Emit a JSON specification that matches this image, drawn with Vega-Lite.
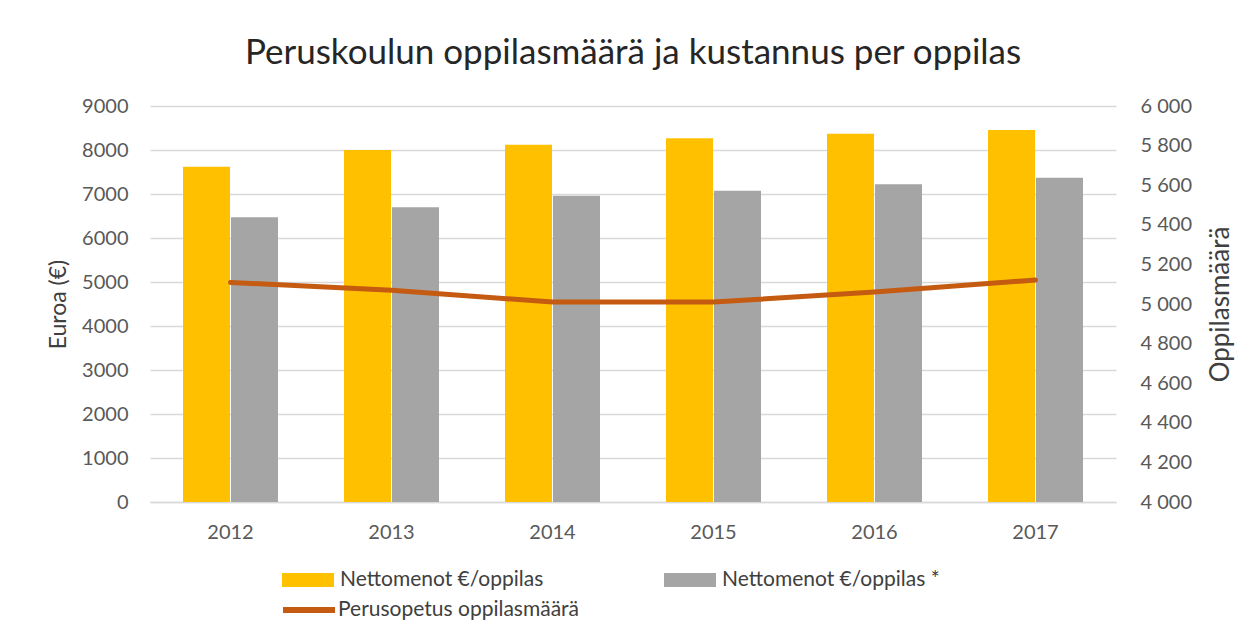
{
  "$schema": "https://vega.github.io/schema/vega-lite/v6.json",
  "width": 966,
  "height": 396,
  "autosize": {"type": "none"},
  "padding": {"left": 150, "top": 106, "right": 143, "bottom": 120},
  "background": "white",
  "config": {"font": "Lato", "view": {"stroke": null}},
  "title": {
    "text": "Peruskoulun oppilasmäärä ja kustannus per oppilas",
    "fontSize": 35,
    "fontWeight": "normal",
    "color": "#262626",
    "anchor": "middle",
    "offset": 25
  },
  "datasets": {
    "bars": [
      {"year": "2012", "series": "Nettomenot €/oppilas", "value": 7620},
      {"year": "2012", "series": "Nettomenot €/oppilas *", "value": 6470},
      {"year": "2013", "series": "Nettomenot €/oppilas", "value": 8000},
      {"year": "2013", "series": "Nettomenot €/oppilas *", "value": 6700},
      {"year": "2014", "series": "Nettomenot €/oppilas", "value": 8120},
      {"year": "2014", "series": "Nettomenot €/oppilas *", "value": 6960},
      {"year": "2015", "series": "Nettomenot €/oppilas", "value": 8265},
      {"year": "2015", "series": "Nettomenot €/oppilas *", "value": 7075},
      {"year": "2016", "series": "Nettomenot €/oppilas", "value": 8370},
      {"year": "2016", "series": "Nettomenot €/oppilas *", "value": 7220},
      {"year": "2017", "series": "Nettomenot €/oppilas", "value": 8455},
      {"year": "2017", "series": "Nettomenot €/oppilas *", "value": 7370}
    ],
    "line": [
      {"year": "2012", "label": "Perusopetus oppilasmäärä", "count": 5109},
      {"year": "2013", "label": "Perusopetus oppilasmäärä", "count": 5070},
      {"year": "2014", "label": "Perusopetus oppilasmäärä", "count": 5010},
      {"year": "2015", "label": "Perusopetus oppilasmäärä", "count": 5010},
      {"year": "2016", "label": "Perusopetus oppilasmäärä", "count": 5060},
      {"year": "2017", "label": "Perusopetus oppilasmäärä", "count": 5121}
    ]
  },
  "layer": [
    {
      "data": {"name": "bars"},
      "mark": {"type": "bar"},
      "encoding": {
        "x": {
          "field": "year",
          "type": "ordinal",
          "scale": {"paddingInner": 0.41, "paddingOuter": 0.205},
          "axis": {
            "title": null,
            "labelAngle": 0,
            "labelFontSize": 20,
            "labelColor": "#595959",
            "labelPadding": 20,
            "ticks": false,
            "domain": true,
            "domainColor": "#d9d9d9",
            "domainWidth": 1.5
          }
        },
        "xOffset": {
          "field": "series",
          "type": "nominal",
          "scale": {"paddingInner": 0.02}
        },
        "y": {
          "field": "value",
          "type": "quantitative",
          "scale": {"domain": [0, 9000], "nice": false},
          "axis": {
            "title": "Euroa (€)",
            "titleFontSize": 23,
            "titleFontWeight": "normal",
            "titleColor": "#404040",
            "titlePadding": 11,
            "values": [0, 1000, 2000, 3000, 4000, 5000, 6000, 7000, 8000, 9000],
            "format": "d",
            "labelFontSize": 20,
            "labelColor": "#595959",
            "labelPadding": 22,
            "ticks": false,
            "domain": false,
            "grid": true,
            "gridColor": "#d9d9d9",
            "gridWidth": 1.5
          }
        },
        "fill": {
          "field": "series",
          "type": "nominal",
          "scale": {
            "domain": ["Nettomenot €/oppilas", "Nettomenot €/oppilas *"],
            "range": ["#FFC000", "#A5A5A5"]
          },
          "legend": {
            "orient": "none",
            "legendX": 132,
            "legendY": 448,
            "direction": "horizontal",
            "columns": 2,
            "columnPadding": 120,
            "title": null,
            "symbolType": "M-1,-0.27H1V0.27H-1Z",
            "symbolSize": 2704,
            "symbolStrokeWidth": 0,
            "labelFontSize": 21,
            "labelColor": "#404040",
            "labelOffset": 6,
            "labelLimit": 0
          }
        }
      }
    },
    {
      "data": {"name": "line"},
      "mark": {"type": "line", "strokeWidth": 5, "strokeCap": "round", "strokeJoin": "round"},
      "encoding": {
        "x": {"field": "year", "type": "ordinal"},
        "y": {
          "field": "count",
          "type": "quantitative",
          "scale": {"domain": [4000, 6000], "nice": false},
          "axis": {
            "orient": "right",
            "title": "Oppilasmäärä",
            "titleAngle": 270,
            "titleFontSize": 26,
            "titleFontWeight": "normal",
            "titleColor": "#404040",
            "titlePadding": 42,
            "values": [4000, 4200, 4400, 4600, 4800, 5000, 5200, 5400, 5600, 5800, 6000],
            "labelExpr": "replace(format(datum.value, ',d'), ',', ' ')",
            "labelFontSize": 20,
            "labelColor": "#595959",
            "labelPadding": 24,
            "ticks": false,
            "domain": false,
            "grid": false
          }
        },
        "stroke": {
          "field": "label",
          "type": "nominal",
          "scale": {"range": ["#C55A11"]},
          "legend": {
            "orient": "none",
            "legendX": 130,
            "legendY": 475,
            "title": null,
            "symbolType": "stroke",
            "symbolSize": 2704,
            "symbolStrokeWidth": 6,
            "labelFontSize": 21,
            "labelColor": "#404040",
            "labelOffset": 0,
            "labelLimit": 0
          }
        }
      }
    }
  ],
  "resolve": {"scale": {"y": "independent"}}
}
